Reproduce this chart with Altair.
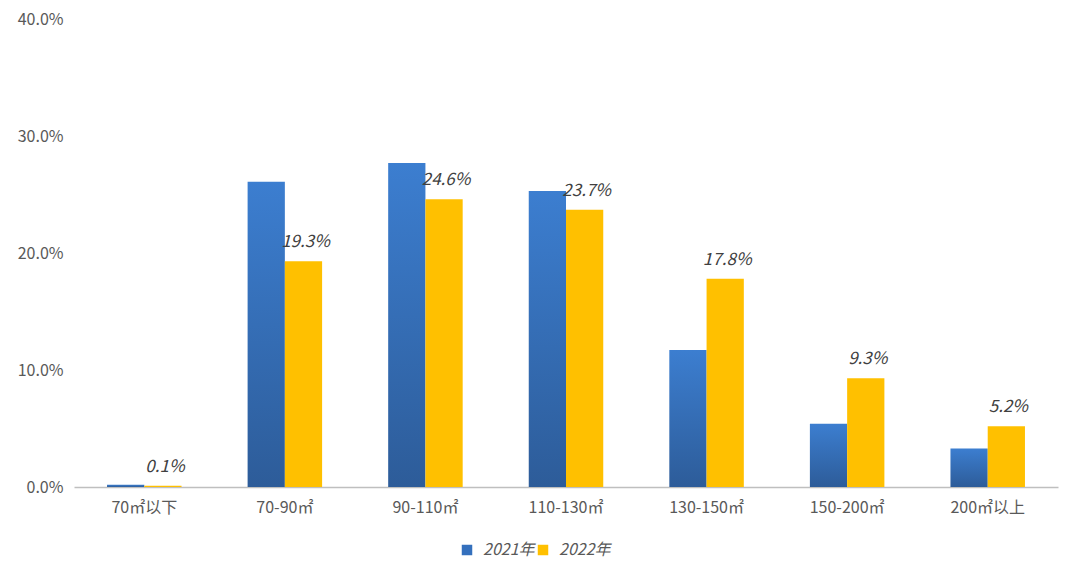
import altair as alt
import pandas as pd

categories = ["70㎡以下", "70-90㎡", "90-110㎡", "110-130㎡", "130-150㎡", "150-200㎡", "200㎡以上"]
v2021 = [0.002, 0.261, 0.277, 0.253, 0.117, 0.054, 0.033]
v2022 = [0.001, 0.193, 0.246, 0.237, 0.178, 0.093, 0.052]
years = ["2021年", "2022年"]

rows = []
for c, a, b in zip(categories, v2021, v2022):
    rows.append({"cat": c, "year": years[0], "value": a})
    rows.append({"cat": c, "year": years[1], "value": b})
df = pd.DataFrame(rows)

FONT = "Microsoft YaHei, Noto Sans CJK SC, sans-serif"

x = alt.X("cat:N", sort=categories, title=None,
          scale=alt.Scale(paddingInner=0.47, paddingOuter=0.235),
          axis=alt.Axis(labelAngle=0, labelFontSize=16, labelColor="#595959", labelFont=FONT,
                        ticks=False, domainColor="#BFBFBF", domainWidth=1.5, labelPadding=12))
y = alt.Y("value:Q", title=None,
          scale=alt.Scale(domain=[0, 0.4], nice=False),
          axis=alt.Axis(format=".1%", values=[0, 0.1, 0.2, 0.3, 0.4], grid=False, domain=False,
                        ticks=False, labelFontSize=16, labelColor="#595959", labelFont=FONT,
                        labelPadding=11))
xo = alt.XOffset("year:N", sort=years, scale=alt.Scale(paddingInner=0, paddingOuter=0))

base = alt.Chart(df)

blue = base.transform_filter(alt.datum.year == years[0]).mark_bar(
    color=alt.Gradient(gradient="linear", x1=0, x2=0, y1=0, y2=1,
                       stops=[alt.GradientStop(color="#3C7ED0", offset=0),
                              alt.GradientStop(color="#2D5C99", offset=1)])
).encode(x=x, y=y, xOffset=xo)

yellow = base.transform_filter(alt.datum.year == years[1]).mark_bar(color="#FFC000").encode(
    x=x, y=y, xOffset=xo)

legend = base.mark_square(size=0, opacity=0).encode(
    color=alt.Color("year:N", sort=years,
                    scale=alt.Scale(domain=years, range=["#3470BD", "#FFC000"]),
                    legend=alt.Legend(title=None, orient="none", direction="horizontal",
                                      legendX=385, legendY=523, symbolType="square",
                                      symbolSize=110, symbolOpacity=1, symbolStrokeWidth=0,
                                      labelFontSize=16, labelFont=FONT, labelFontStyle="italic",
                                      labelColor="#595959", labelOffset=8, columnPadding=0))
)

labels = base.transform_filter(alt.datum.year == years[1]).mark_text(
    baseline="alphabetic", dy=-14, dx=2, fontSize=17, fontStyle="italic", color="#404040", font=FONT
).encode(x=x, y=y, xOffset=xo, text=alt.Text("value:Q", format=".1%"))

chart = alt.layer(blue, yellow, legend, labels).properties(
    width=984, height=468,
    autosize=alt.AutoSizeParams(type="none"),
    padding={"left": 74, "top": 19, "right": 22, "bottom": 92},
).configure(background="white").configure_view(stroke=None, strokeWidth=0)

chart.save("out.html", embed_options={"renderer": "svg", "actions": False})
